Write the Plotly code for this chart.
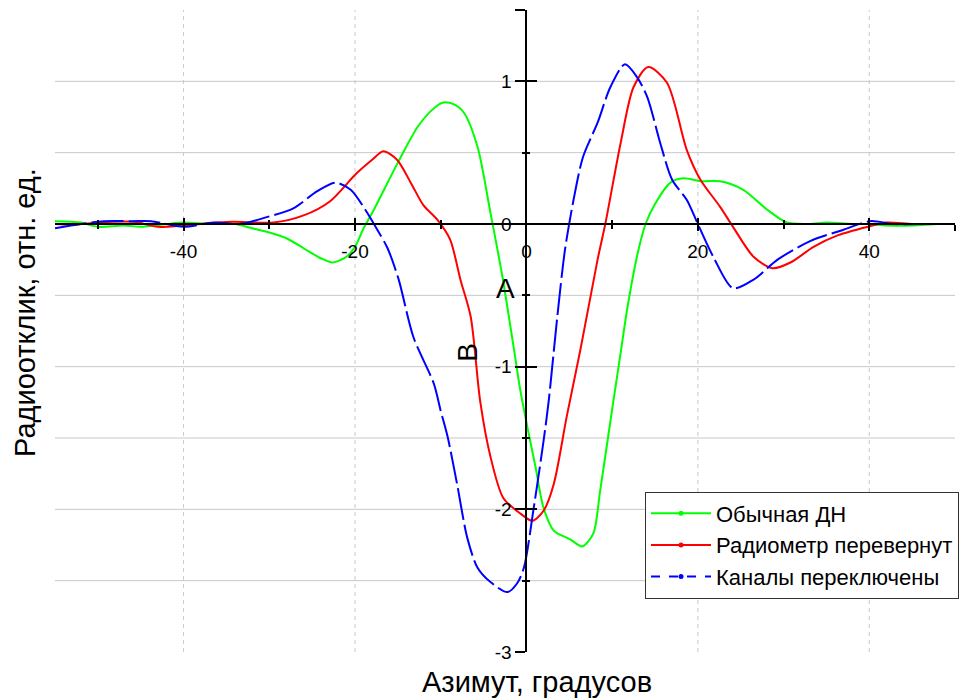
import plotly.graph_objects as go

# ---------------- data ----------------
green_x = [-55, -52, -50, -47, -45, -42, -40, -37, -34, -32, -30, -28, -26, -24, -22.6, -21, -20, -19,
           -17.8, -15, -12.7, -11, -9.8, -8.5, -7.3, -5.7, -4.2, -2.8, -1.5, -0.7, 0.1, 1.05, 2, 3.2,
           5.1, 6.5, 7.8, 8.6, 10, 11, 11.8, 13, 13.9, 15, 16.8, 18.3, 20.3, 22.6, 25.3, 28.1, 30.4,
           33, 35, 38, 40, 42, 45, 48, 50]
green_y = [0.02, 0.01, -0.02, -0.01, -0.02, 0.0, 0.01, 0.0, 0.0, -0.03, -0.06, -0.1, -0.17, -0.24, -0.27,
           -0.23, -0.16, -0.03, 0.1, 0.43, 0.68, 0.8, 0.85, 0.84, 0.78, 0.54, 0.08, -0.37, -0.86, -1.17,
           -1.42, -1.7, -1.99, -2.15, -2.21, -2.26, -2.17, -1.87, -1.3, -0.9, -0.58, -0.2, 0.0, 0.14, 0.29,
           0.32, 0.30, 0.30, 0.24, 0.10, 0.01, 0.0, 0.01, 0.0, 0.0, -0.01, -0.01, 0.0, 0.0]

red_x = [-55, -52.8, -50, -45.8, -43, -40, -36, -34.2, -29.5, -26, -22.9, -19.9, -18, -16.7, -15.1,
         -13.5, -12, -10.4, -8.9, -7.7, -6.5, -5.4, -4.2, -2.7, -0.7, 0.7, 2, 3.2, 4.7, 6.3, 8.3, 9.2,
         11, 12.5, 14.2, 16.4, 18.7, 20.3, 22.6, 24.1, 26.5, 28.7, 30.8, 33.5, 36.3, 39.8, 42, 45, 48, 50]
red_y = [0.0, -0.005, 0.01, 0.015, -0.02, -0.01, 0.01, 0.015, 0.01, 0.06, 0.16, 0.35, 0.45, 0.51, 0.45,
         0.29, 0.13, 0.03, -0.11, -0.39, -0.65, -1.24, -1.63, -1.92, -2.03, -2.08, -2.01, -1.82, -1.35,
         -0.88, -0.25, 0.0, 0.57, 0.96, 1.10, 0.99, 0.52, 0.31, 0.12, -0.02, -0.23, -0.31, -0.27, -0.16,
         -0.08, -0.02, 0.01, 0.0, 0.0, 0.0]

blue_x = [-55, -52, -49.3, -46, -43.8, -40, -36.5, -33.4, -30.2, -27.2, -24.4, -22.3, -20.5, -18.8,
          -17.4, -16.2, -14.9, -13.2, -10.8, -10, -9.2, -8.1, -6.9, -5.7, -4.2, -2.2, -1.1, -0.3, 0.8,
          2, 2.6, 3.6, 4.5, 5.5, 6.6, 8.3, 9.8, 11.5, 12.9, 14.1, 15.6, 17, 18.7, 20, 21.8, 24.1, 26.5,
          29.3, 33.1, 37, 40.1, 42.8, 46, 50]
blue_y = [-0.03, 0.0, 0.02, 0.02, 0.02, -0.02, 0.01, 0.0, 0.05, 0.11, 0.23, 0.29, 0.24, 0.1, -0.04,
          -0.17, -0.39, -0.79, -1.12, -1.31, -1.49, -1.82, -2.2, -2.41, -2.51, -2.58, -2.52, -2.41,
          -2.01, -1.52, -1.24, -0.65, -0.18, 0.17, 0.47, 0.71, 0.96, 1.12, 1.03, 0.89, 0.57, 0.31, 0.17,
          0.0, -0.23, -0.45, -0.39, -0.25, -0.12, -0.04, 0.02, 0.0, 0.0, 0.0]

series_names = ["Обычная ДН", "Радиометр перевернут", "Каналы переключены"]

x_tickvals = [-40, -20, 0, 20, 40, 50]
x_ticktext = ["-40", "-20", "0", "20", "40", ""]
x_minorvals = [-50, -30, -10, 10, 30]
y_tickvals = [-3, -2, -1, 0, 1, 1.5]
y_ticktext = ["-3", "-2", "-1", "0", "1", ""]
y_minorvals = [-2.5, -1.5, -0.5, 0.5]
grid_y = [-2.5, -2, -1.5, -1, -0.5, 0.5, 1]
grid_x = [-40, -20, 20, 40]

X_RANGE = [-55, 50]
Y_RANGE = [-3, 1.5]

x_title = "Азимут, градусов"
y_title = "Радиоотклик, отн. ед."
label_A = ("A", -2.45, -0.45)
label_B = ("B", -6.9, -0.9)

# ---------------- figure ----------------
FONT = "Arial, Liberation Sans, sans-serif"
colors = ["#00ff00", "#ff0000", "#0000ff"]
dashes = ["solid", "solid", "32px,5px"]
legend_dashes = ["solid", "solid", "dash"]

fig = go.Figure()
for xs, ys, c, d in zip([green_x, red_x, blue_x], [green_y, red_y, blue_y], colors, dashes):
    fig.add_trace(go.Scatter(x=xs, y=ys, mode="lines", showlegend=False,
                             line=dict(color=c, width=2, dash=d, shape="spline", smoothing=0.8),
                             hoverinfo="skip"))

# legend-only entries (line + dot), placed on overlay axes
for name, c, d in zip(series_names, colors, legend_dashes):
    fig.add_trace(go.Scatter(x=[None], y=[None], mode="lines+markers", name=name,
                             line=dict(color=c, width=2, dash=d),
                             marker=dict(color=c, size=5),
                             xaxis="x2", yaxis="y2"))

x0_frac = (0 - X_RANGE[0]) / (X_RANGE[1] - X_RANGE[0])
y0_frac = (0 - Y_RANGE[0]) / (Y_RANGE[1] - Y_RANGE[0])

tickfont = dict(family=FONT, size=19, color="black")

common_x = dict(range=X_RANGE, anchor="free", position=y0_frac, showgrid=False, zeroline=False,
                tickmode="array", tickvals=x_tickvals, fixedrange=True)
common_y = dict(range=Y_RANGE, anchor="free", position=x0_frac, showgrid=False, zeroline=False,
                tickmode="array", tickvals=y_tickvals, fixedrange=True)

fig.update_layout(
    width=972, height=698,
    margin=dict(l=55, r=17, t=10, b=46, autoexpand=False),
    paper_bgcolor="white", plot_bgcolor="white",
    font=dict(family=FONT, color="black"),
    xaxis=dict(**common_x, ticktext=x_ticktext, showline=True, linecolor="black", linewidth=2,
               ticks="outside", ticklen=6, tickwidth=1.5, tickcolor="black", tickfont=tickfont,
               ticklabelstandoff=4,
               minor=dict(tickvals=x_minorvals, ticks="outside", ticklen=4, tickwidth=1.5,
                          tickcolor="black")),
    yaxis=dict(**common_y, ticktext=y_ticktext, showline=True, linecolor="black", linewidth=2,
               ticks="outside", ticklen=10, tickwidth=1.5, tickcolor="black", tickfont=tickfont,
               minor=dict(tickvals=y_minorvals, ticks="outside", ticklen=3, tickwidth=1.5,
                          tickcolor="black")),
    xaxis2=dict(**common_x, overlaying="x", showline=False, showticklabels=False,
                ticks="inside", ticklen=6, tickwidth=1.5, tickcolor="black",
                minor=dict(tickvals=x_minorvals, ticks="inside", ticklen=4, tickwidth=1.5,
                           tickcolor="black")),
    yaxis2=dict(**common_y, overlaying="y", showline=False, showticklabels=False,
                ticks="inside", ticklen=10, tickwidth=1.5, tickcolor="black",
                minor=dict(tickvals=y_minorvals, ticks="inside", ticklen=3, tickwidth=1.5,
                           tickcolor="black")),
    legend=dict(x=(645 - 55) / 900, y=(652 - 545) / 642, xanchor="left", yanchor="middle",
                bgcolor="white", bordercolor="#333333", borderwidth=1,
                font=dict(family=FONT, size=22, color="black"),
                tracegroupgap=0, itemwidth=60),
    showlegend=True,
)

shapes = []
for gy in grid_y:
    shapes.append(dict(type="line", xref="paper", x0=0, x1=1, yref="y", y0=gy, y1=gy,
                       line=dict(color="#c8c8c8", width=1), layer="below"))
for gx in grid_x:
    shapes.append(dict(type="line", xref="x", x0=gx, x1=gx, yref="paper", y0=0, y1=1,
                       line=dict(color="#c8c8c8", width=1, dash="4px,4px"), layer="below"))
fig.update_layout(shapes=shapes)

fig.add_annotation(text=x_title, xref="paper", yref="paper", x=(537 - 55) / 900, y=(652 - 682) / 642,
                   showarrow=False, xanchor="center", yanchor="middle",
                   font=dict(family=FONT, size=29, color="black"))
fig.add_annotation(text=y_title, xref="paper", yref="paper", x=(25 - 55) / 900, y=(652 - 313) / 642,
                   showarrow=False, xanchor="center", yanchor="middle", textangle=-90,
                   font=dict(family=FONT, size=29, color="black"))
for txt, ax_, ay_, ang in [(label_A[0], label_A[1], label_A[2], 0), (label_B[0], label_B[1], label_B[2], -90)]:
    fig.add_annotation(text=txt, x=ax_, y=ay_, xref="x", yref="y", showarrow=False,
                       xanchor="center", yanchor="middle", textangle=ang,
                       font=dict(family=FONT, size=28, color="black"))

fig.write_html("out.html")
